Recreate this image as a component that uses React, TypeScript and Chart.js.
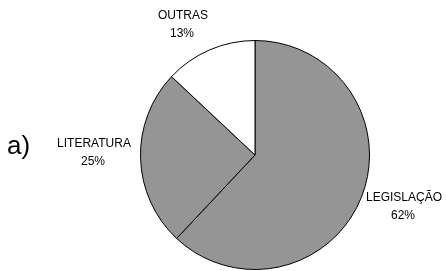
import React, { useEffect, useRef } from "react";
import { Chart, registerables } from "chart.js";

Chart.register(...registerables);

const categories = ["LEGISLAÇÃO", "LITERATURA", "OUTRAS"];
const values = [62, 25, 13];
const sliceColors = ["#959595", "#959595", "#ffffff"];
const panelLabel = "a)";

const labelPlugin = {
  id: "pieLabels",
  afterDraw(chart: any) {
    const ctx = chart.ctx;
    ctx.save();
    ctx.fillStyle = "#000";
    ctx.textAlign = "center";
    ctx.textBaseline = "middle";
    ctx.font = "12px 'Liberation Sans', Arial, sans-serif";
    const pos: [number, number][] = [
      [404, 198],
      [94, 144],
      [183, 16],
    ];
    categories.forEach((c, i) => {
      const [x, y] = pos[i];
      ctx.fillText(c, x, y);
      ctx.fillText(values[i] + "%", x - 1, y + 18);
    });
    ctx.textAlign = "left";
    ctx.font = "26px 'Liberation Sans', Arial, sans-serif";
    ctx.fillText(panelLabel, 7, 147);
    ctx.restore();
  },
};

export default function App() {
  const ref = useRef<HTMLCanvasElement>(null);
  useEffect(() => {
    const chart = new Chart(ref.current!, {
      type: "pie",
      data: {
        labels: categories,
        datasets: [
          {
            data: values,
            backgroundColor: sliceColors,
            borderColor: "#000",
            borderWidth: 1,
          },
        ],
      },
      options: {
        responsive: false,
        animation: false,
        layout: { padding: { left: 140, right: 76, top: 40, bottom: 1 } },
        plugins: { legend: { display: false }, tooltip: { enabled: false } },
      },
      plugins: [labelPlugin],
    });
    return () => chart.destroy();
  }, []);
  return (
    <div style={{ position: "fixed", left: 0, top: 0, width: 446, height: 271, background: "#fff" }}>
      <canvas ref={ref} width={446} height={271} />
    </div>
  );
}
